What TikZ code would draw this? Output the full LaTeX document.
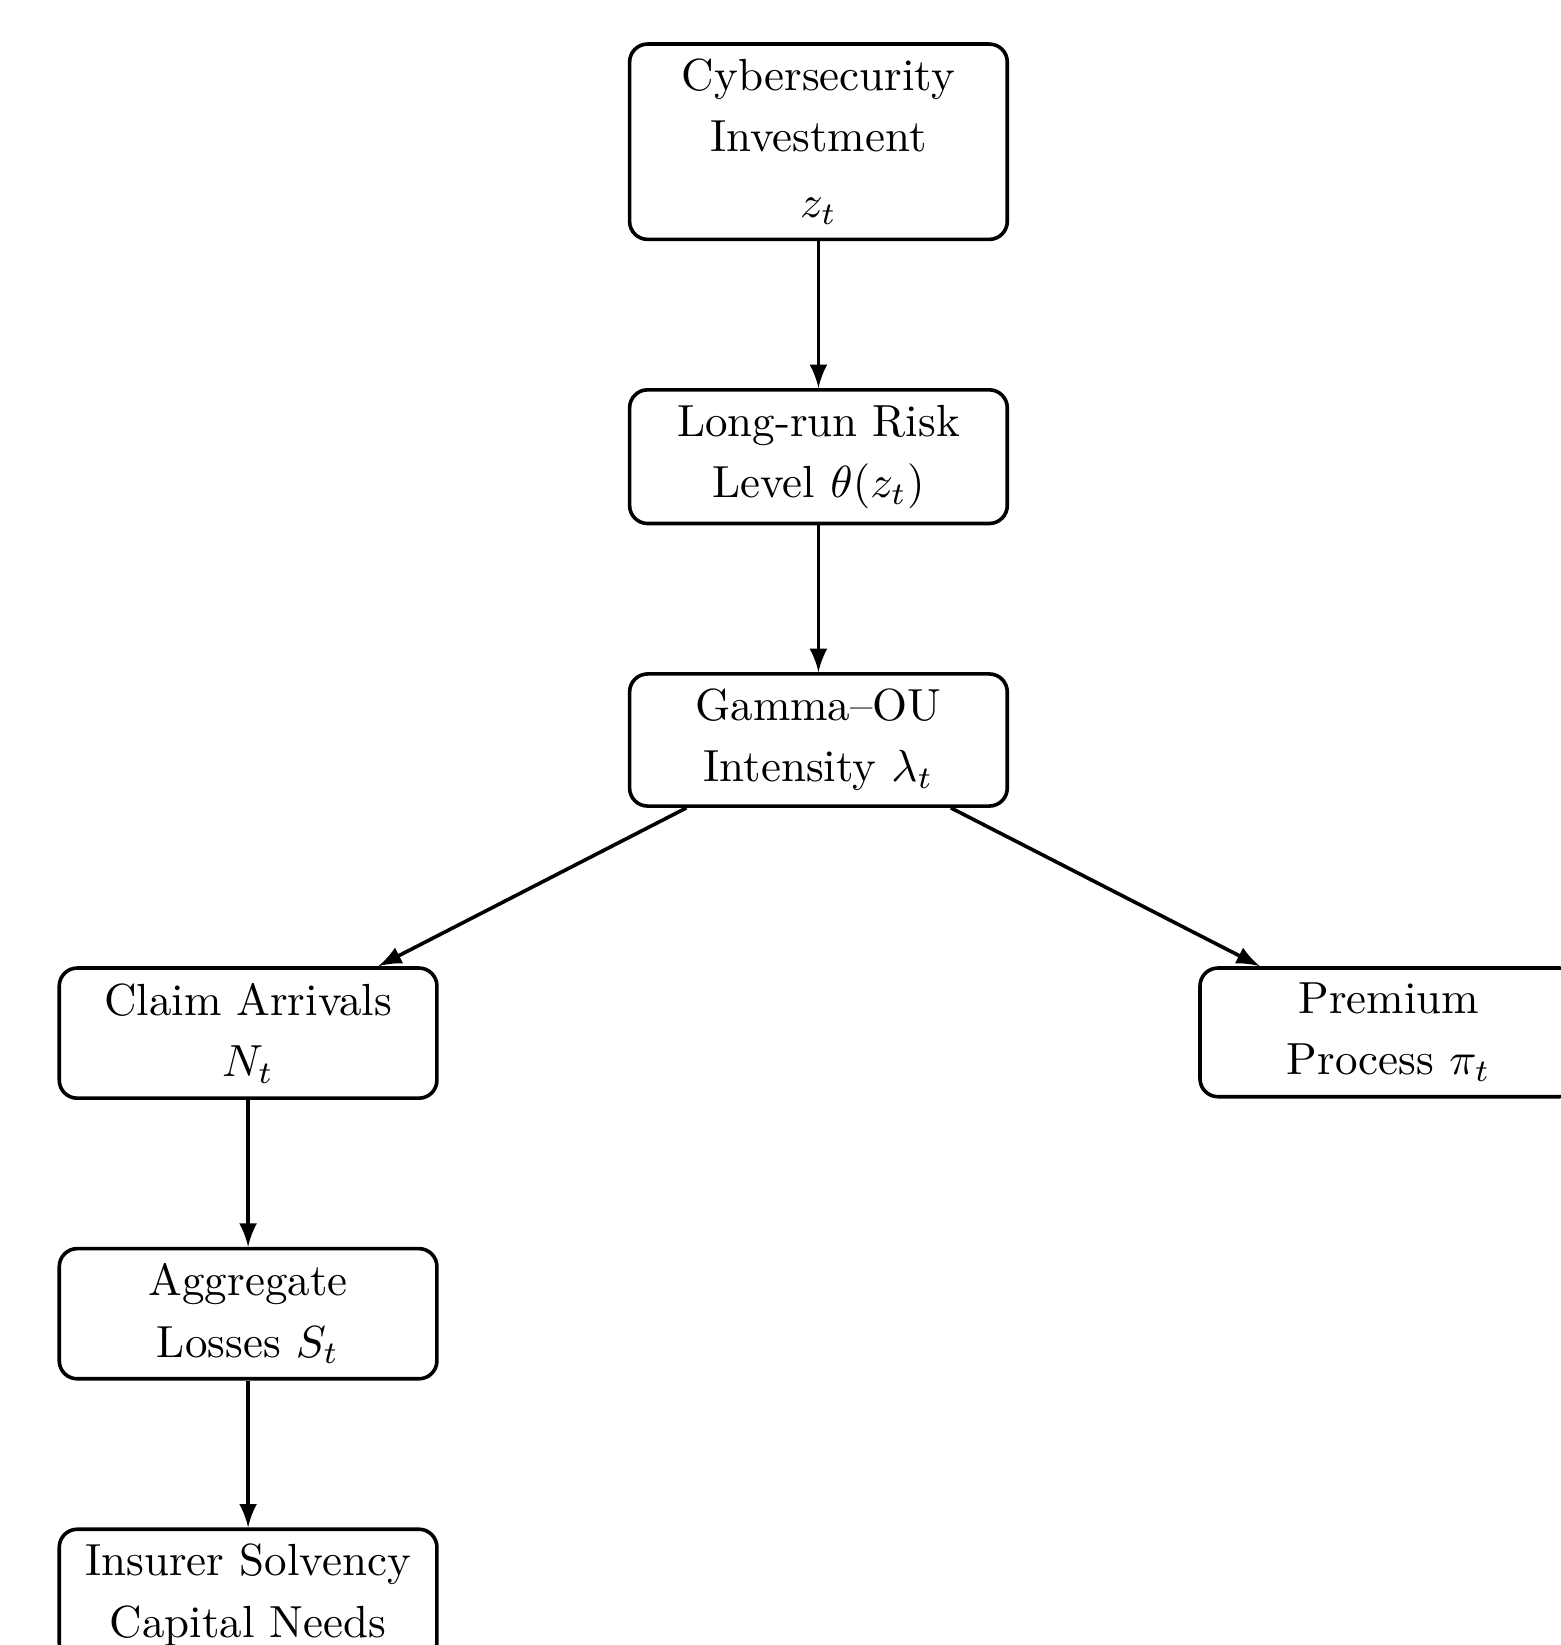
\documentclass[tikz,border=0pt]{standalone}
\usepackage{amsmath}
\usetikzlibrary{positioning}

\begin{document}
\begin{tikzpicture}[node distance=1.147cm, thick, >=latex,
    block/.style = {draw, rounded corners, align=center, text width=2.6cm, minimum width=2.95cm,
                    font=\fontsize{10}{13.6}\selectfont}]
        \path[use as bounding box] (-181.9pt,31.5pt) rectangle (165pt,-334.1pt);
        \clip (-181.9pt,31.5pt) rectangle (165pt,-334.1pt);
        \node[block] (invest) {Cybersecurity\\Investment\\[1pt] $z_t$};
        \node[block] (risk) [below=of invest] {Long-run Risk\\Level $\theta(z_t)$};
        \node[block] (gou) [below=of risk] {Gamma--OU\\Intensity $\lambda_t$};
        \node[block] (claims) [below left=1.237cm and 1.477cm of gou] {Claim Arrivals\\$N_t$};
        \node[block] (premium) [below right=1.237cm and 1.477cm of gou] {Premium\\Process $\pi_t$};
        \node[block] (losses) [below=of claims] {Aggregate\\Losses $S_t$};
        \node[block] (solvency) [below=of losses] {Insurer Solvency\\Capital Needs};
        \draw[->] (invest) -- (risk);
        \draw[->] (risk) -- (gou);
        \draw[->] (gou) -- (claims);
        \draw[->] (gou) -- (premium);
        \draw[->] (claims) -- (losses);
        \draw[->] (losses) -- (solvency);
    \end{tikzpicture}
\end{document}
